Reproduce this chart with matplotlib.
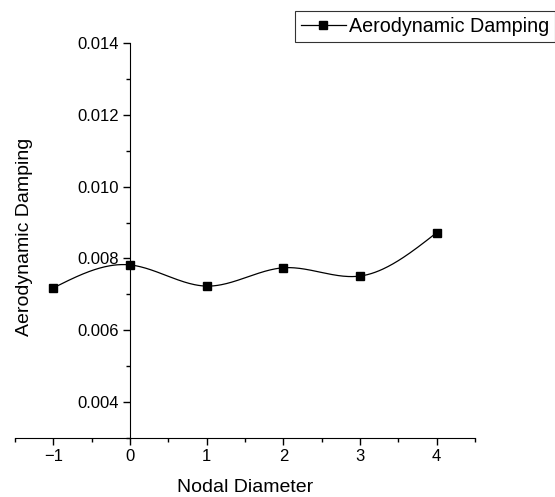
import numpy as np
import matplotlib.pyplot as plt
from matplotlib.ticker import MultipleLocator, FormatStrFormatter

plt.rcParams['font.family'] = ['Liberation Sans', 'DejaVu Sans']

# Datos
nodal_diameter = [-1, 0, 1, 2, 3, 4]
damping = [0.00718, 0.00782, 0.00723, 0.00774, 0.00751, 0.00872]


def natural_spline(x, y, n=300):
    # spline cubico natural para dibujar la curva suave
    x = np.asarray(x, float)
    y = np.asarray(y, float)
    h = np.diff(x)
    m = len(x)
    A = np.zeros((m, m))
    b = np.zeros(m)
    A[0, 0] = A[-1, -1] = 1
    for i in range(1, m - 1):
        A[i, i - 1] = h[i - 1]
        A[i, i] = 2 * (h[i - 1] + h[i])
        A[i, i + 1] = h[i]
        b[i] = 6 * ((y[i + 1] - y[i]) / h[i] - (y[i] - y[i - 1]) / h[i - 1])
    M = np.linalg.solve(A, b)
    xs = np.linspace(x[0], x[-1], n)
    idx = np.clip(np.searchsorted(x, xs) - 1, 0, m - 2)
    x0, x1 = x[idx], x[idx + 1]
    hh = x1 - x0
    t0, t1 = x1 - xs, xs - x0
    ys = (M[idx] * t0**3 + M[idx + 1] * t1**3) / (6 * hh) \
        + (y[idx] / hh - M[idx] * hh / 6) * t0 \
        + (y[idx + 1] / hh - M[idx + 1] * hh / 6) * t1
    return xs, ys


fig = plt.figure(figsize=(5.55, 4.97), dpi=100)
ax = fig.add_axes([0.027, 0.1187, 0.829, 0.7948])

xs, ys = natural_spline(nodal_diameter, damping)
ax.plot(xs, ys, color='black', linewidth=0.9)
ax.plot(nodal_diameter, damping, 's', color='black', markersize=5.5, linestyle='none')
ax.plot([], [], 's-', color='black', markersize=5.5, linewidth=0.9, label='Aerodynamic Damping')

ax.set_xlim(-1.5, 4.5)
ax.set_ylim(0.003, 0.014)

ax.spines['left'].set_position(('data', 0))
ax.spines['top'].set_visible(False)
ax.spines['right'].set_visible(False)

ax.xaxis.set_major_locator(MultipleLocator(1))
ax.xaxis.set_minor_locator(MultipleLocator(0.5))
ax.yaxis.set_minor_locator(MultipleLocator(0.001))
ax.yaxis.set_major_formatter(FormatStrFormatter('%.3f'))
ax.set_yticks([0.004, 0.006, 0.008, 0.010, 0.012, 0.014])

ax.tick_params(which='major', direction='out', length=5, width=1, labelsize=12, pad=3)
ax.tick_params(which='minor', direction='out', length=3, width=1)

ax.set_xlabel('Nodal Diameter', fontsize=14)
ax.set_ylabel('Aerodynamic Damping', fontsize=14)
ax.xaxis.set_label_coords(0.5, -0.103)
ax.yaxis.set_label_coords(0.039, 0.51)

leg = fig.legend(loc='upper left', bbox_to_anchor=(0.531, 0.978), fontsize=14.2,
                 frameon=True, fancybox=False, edgecolor='black', borderpad=0.3,
                 handlelength=2.3, handletextpad=0.15, borderaxespad=0)
leg.get_frame().set_linewidth(0.8)

fig.savefig('out.png', dpi=100)
